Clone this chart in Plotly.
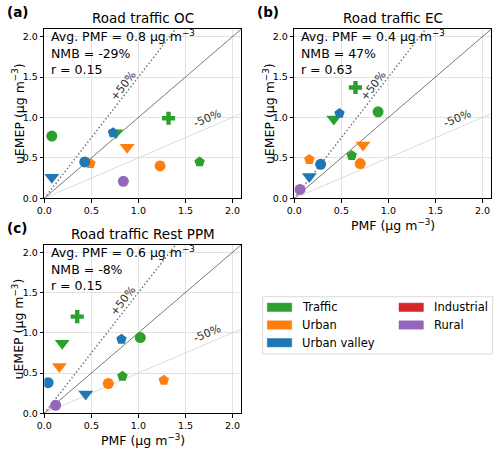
import plotly.graph_objects as go

# site order: category + marker symbol
site_cat = ['Traffic', 'Traffic', 'Traffic', 'Traffic',
            'Urban', 'Urban', 'Urban',
            'Urban valley', 'Urban valley', 'Urban valley',
            'Rural']
site_sym = ['circle', 'triangle-down', 'cross', 'pentagon',
            'circle', 'triangle-down', 'pentagon',
            'circle', 'triangle-down', 'pentagon',
            'circle']

oc_pmf = [0.08, 0.76, 1.32, 1.65, 1.23, 0.88, 0.49, 0.43, 0.08, 0.73, 0.84]
oc_uemep = [0.77, 0.81, 0.99, 0.45, 0.40, 0.63, 0.43, 0.45, 0.26, 0.81, 0.21]
ec_pmf = [0.89, 0.42, 0.65, 0.61, 0.70, 0.73, 0.16, 0.28, 0.16, 0.48, 0.06]
ec_uemep = [1.07, 0.98, 1.37, 0.53, 0.43, 0.66, 0.48, 0.42, 0.27, 1.05, 0.11]
ppm_pmf = [1.02, 0.19, 0.35, 0.83, 0.68, 0.16, 1.27, 0.04, 0.44, 0.82, 0.12]
ppm_uemep = [0.94, 0.87, 1.20, 0.46, 0.37, 0.58, 0.41, 0.38, 0.24, 0.92, 0.10]

panel_titles = ['Road traffic OC', 'Road traffic EC', 'Road traffic Rest PPM']
panel_labels = ['(a)', '(b)', '(c)']
avg_pmf = [0.8, 0.4, 0.6]
nmb = [-29, 47, -8]
corr = [0.15, 0.63, 0.15]

legend_labels = ['Traffic', 'Urban', 'Urban valley', 'Industrial', 'Rural']
colors = {'Traffic': '#2ca02c', 'Urban': '#ff7f0e', 'Urban valley': '#1f77b4',
          'Industrial': '#d62728', 'Rural': '#9467bd'}
sym_size = {'circle': 11, 'triangle-down': 13, 'cross': 11, 'pentagon': 11}

ratios = [1.5, 1.0, 0.5]
ratio_style = [dict(color='#777', width=1.5, dash='1.5px,2.2px'),
               dict(color='#555', width=0.8),
               dict(color='#d0d0d0', width=0.8)]

AX_MAX = 2.09
FONT = 'DejaVu Sans'
W, H = 500, 456
UNIT = 'μg m<sup>−3</sup>'


def px2x(p):
    return p / W


def px2y(p):
    return 1 - p / H


# axis boxes in pixels (left, right, top, bottom)
boxes = [(44.3, 241, 29.3, 198.3), (294.3, 491, 29.3, 198.3), (44.3, 241, 245, 413.3)]
data = [(oc_pmf, oc_uemep), (ec_pmf, ec_uemep), (ppm_pmf, ppm_uemep)]

fig = go.Figure()
annotations = []
shapes = []

for i in range(3):
    xa = 'x' if i == 0 else f'x{i+1}'
    ya = 'y' if i == 0 else f'y{i+1}'
    l, r, t, b = boxes[i]
    ax_cfg = dict(range=[0, AX_MAX], showline=True, mirror=True, linecolor='black', linewidth=1,
                  ticks='outside', ticklen=3.5, tickwidth=0.8, tickcolor='black',
                  tickvals=[0, 0.5, 1.0, 1.5, 2.0], tickformat='.1f',
                  tickfont=dict(size=9.5, color='black'), automargin=False,
                  showgrid=True, gridcolor='#e2e2e2', gridwidth=0.8, zeroline=False)
    fig.update_layout(**{
        ('xaxis' if i == 0 else f'xaxis{i+1}'): dict(ax_cfg, domain=[px2x(l), px2x(r)], anchor=ya),
        ('yaxis' if i == 0 else f'yaxis{i+1}'): dict(ax_cfg, domain=[px2y(b), px2y(t)], anchor=xa),
    })

    # reference lines
    for k, rt in enumerate(ratios):
        fig.add_trace(go.Scatter(x=[0, AX_MAX], y=[0, AX_MAX * rt], mode='lines', line=ratio_style[k],
                                 xaxis=xa, yaxis=ya, showlegend=False, hoverinfo='skip'))

    xs, ys = data[i]
    for j in range(len(site_cat)):
        fig.add_trace(go.Scatter(x=[xs[j]], y=[ys[j]], mode='markers', xaxis=xa, yaxis=ya,
                                 marker=dict(symbol=site_sym[j], color=colors[site_cat[j]],
                                             size=sym_size[site_sym[j]], line=dict(width=0)),
                                 showlegend=False, name=site_cat[j]))

    xd, yd = xa + ' domain', ya + ' domain'
    annotations.append(dict(xref=xd, yref=yd, x=0.5, y=1, xanchor='center', yanchor='bottom', showarrow=False,
                            text=panel_titles[i], font=dict(size=13.5), yshift=1))
    annotations.append(dict(xref=xd, yref=yd, x=0.025, y=1.0, xanchor='left', yanchor='top', showarrow=False,
                            align='left', font=dict(size=12.5), yshift=3,
                            text=f'Avg. PMF = {avg_pmf[i]} {UNIT}<br>NMB = {nmb[i]}%<br>r = {corr[i]}'))
    annotations.append(dict(xref=xa, yref=ya, x=0.84, y=1.40, text='+50%', showarrow=False,
                            xanchor='center', yanchor='middle',
                            textangle=-52, font=dict(size=11, color='#333')))
    annotations.append(dict(xref=xa, yref=ya, x=1.73, y=0.99, text='-50%', showarrow=False,
                            xanchor='center', yanchor='middle',
                            textangle=-23, font=dict(size=11, color='#333')))
    annotations.append(dict(xref='paper', yref='paper', x=px2x(l - 39), y=px2y(t - 17), xanchor='left',
                            yanchor='middle', showarrow=False, text=f'<b>{panel_labels[i]}</b>',
                            font=dict(size=13.5)))
    # axis titles
    annotations.append(dict(xref='paper', yref='paper', x=px2x(l - 26), y=px2y((t + b) / 2),
                            xanchor='center', yanchor='middle',
                            textangle=-90, showarrow=False, text=f'uEMEP ({UNIT})', font=dict(size=12.5)))
    if i > 0:
        annotations.append(dict(xref='paper', yref='paper', x=px2x((l + r) / 2), y=px2y(b + 27),
                                xanchor='center', yanchor='middle',
                                showarrow=False, text=f'PMF ({UNIT})', font=dict(size=12.5)))

# legend box drawn by hand
shapes.append(dict(type='rect', xref='paper', yref='paper', x0=px2x(262.7), x1=px2x(492.7),
                   y0=px2y(354), y1=px2y(296.7), line=dict(color='#d0d0d0', width=0.8), fillcolor='white'))
leg_pos = [(267.3, 307.3), (267.3, 325), (267.3, 342.7), (399, 307.3), (399, 325)]
for lab, (lx, ly) in zip(legend_labels, leg_pos):
    shapes.append(dict(type='rect', xref='paper', yref='paper', x0=px2x(lx), x1=px2x(lx + 24.4),
                       y0=px2y(ly + 4.2), y1=px2y(ly - 4.2), fillcolor=colors[lab],
                       line=dict(color=colors[lab], width=0.5)))
    annotations.append(dict(xref='paper', yref='paper', x=px2x(lx + 33), y=px2y(ly), xanchor='left',
                            yanchor='middle', showarrow=False, text=lab, font=dict(size=11.5)))

fig.update_layout(width=W, height=H, margin=dict(l=0, r=0, t=0, b=0),
                  paper_bgcolor='white', plot_bgcolor='white',
                  font=dict(family=FONT, color='black', size=12),
                  annotations=annotations, shapes=shapes, showlegend=False)

fig.write_html("out.html", config={'displayModeBar': False},
               post_script="document.body.style.margin='0px';")
